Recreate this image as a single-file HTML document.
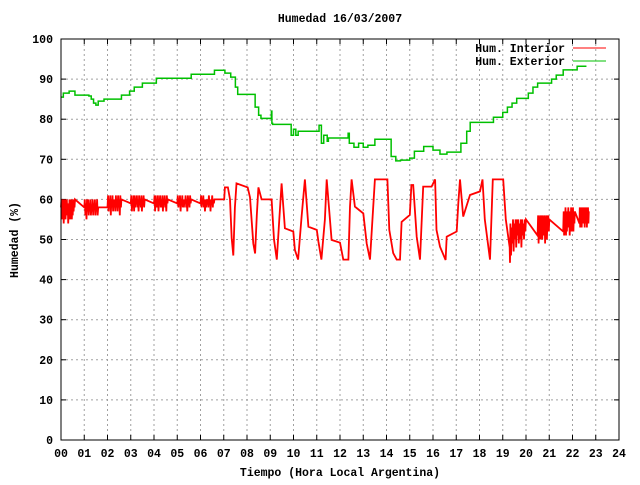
<!DOCTYPE html>
<html><head><meta charset="utf-8"><style>
body{margin:0;background:#fff}
svg text{font-family:"Liberation Mono",monospace;font-size:11.5px;font-weight:bold;fill:#000}
</style></head><body>
<svg id="chart" width="640" height="480" xmlns="http://www.w3.org/2000/svg">
<rect width="640" height="480" fill="#fff"/>
<g id="grid"></g>
<g id="axes"></g>
<g id="series"></g>
<rect x="61" y="39" width="558" height="401" fill="none" stroke="#000" stroke-width="1"/>
<text x="340" y="22" text-anchor="middle">Humedad 16/03/2007</text>
<text x="340" y="476" text-anchor="middle">Tiempo (Hora Local Argentina)</text>
<text x="18" y="240" text-anchor="middle" transform="rotate(-90 18 240)">Humedad (%)</text>
<g>
<text x="565" y="52" text-anchor="end">Hum. Interior</text>
<line x1="573" y1="48" x2="606" y2="48" stroke="#f00" stroke-width="1"/>
<text x="565" y="65" text-anchor="end">Hum. Exterior</text>
<line x1="573" y1="61" x2="606" y2="61" stroke="#00c000" stroke-width="1"/>
</g>
</svg>
<script>
const xTicks=["00","01","02","03","04","05","06","07","08","09","10","11","12","13","14","15","16","17","18","19","20","21","22","23","24"];
const yTicks=[0,10,20,30,40,50,60,70,80,90,100];
const extHours=[0,0.1,0.35,0.6,1.2,1.3,1.4,1.5,1.6,1.85,2.6,2.95,3.15,3.5,4.1,5.6,6.6,7.05,7.3,7.5,7.6,8.25,8.35,8.5,8.6,9.05,9.07,9.1,9.8,9.9,10.0,10.1,10.2,10.3,11.0,11.1,11.2,11.3,11.45,11.5,12.3,12.35,12.4,12.6,12.8,13.0,13.2,13.5,14.0,14.2,14.4,14.6,15.0,15.2,15.6,16.0,16.3,16.6,17.0,17.2,17.45,17.6,18.5,18.6,19.0,19.2,19.4,19.6,20.1,20.3,20.5,21.1,21.3,21.6,22.2,22.6];
const extVals=[85.5,86.5,87,86,85.8,85,84,83.5,84.5,85,86,87,88,89,90.2,91.2,92.2,91.5,90.5,88,86.2,86.2,83,81,80.2,82,79,78.7,78.7,76,77.5,76,77,77,77,78.5,74,76,74.5,75.3,75.3,76.5,74,73,74,73,73.5,75,75,70.7,69.6,69.8,70.3,72,73.2,72.3,71.3,71.8,71.8,74,77,79.2,79.2,80.5,81.7,83,84,85.2,86.5,88,89,90,91,92.3,93.2,93.2];
const intHours=[7.0,7.02,7.05,7.18,7.27,7.34,7.41,7.48,7.55,8.03,8.13,8.27,8.35,8.42,8.49,8.63,9.06,9.16,9.28,9.39,9.49,9.63,9.99,10.06,10.2,10.35,10.49,10.64,11.0,11.07,11.2,11.35,11.43,11.64,12.0,12.14,12.36,12.43,12.5,12.64,13.0,13.15,13.29,13.5,14.04,14.12,14.29,14.44,14.58,14.65,15.0,15.07,15.15,15.3,15.44,15.58,15.94,16.09,16.15,16.3,16.54,16.59,17.02,17.09,17.16,17.3,17.59,18.02,18.13,18.23,18.45,18.57,19.02,19.13,19.31,19.45];
const intVals=[60,60,63,63,60,50.3,46,58,64,63,60.5,49,46.5,56,63,60,60,50,45,55,64,52.8,52,47.4,45,55.7,65,53.2,52.4,49.5,45,55,65,49.9,49.2,45,45,58.2,65,58.2,56.5,49,45,65,65,52.4,46.6,45,45,54.4,56.1,63.6,63.6,50.7,45,63.2,63.2,65,52.4,48.2,44.9,50.7,52,59,65,55.7,61.1,62,65,55,45,65,65,55,44.2,53.2];
const noiseStart=[0.0,1.0,2.0,3.0,4.0,5.0,6.0,19.3,20.5,21.6,22.3];
const noiseEnd=[0.6,1.6,2.6,3.6,4.6,5.6,6.6,20.0,21.0,22.1,22.7];
const noiseVals=[
[58,60,55,59,57,60,54,59,56,60,55,58,57,60,56,59,54,58,56,60,55,59,57,60,55,58,56,60,57,59,58,60],
[58,60,56,59,55,60,57,60,56,59,57,60,56,58,57,60,56,59,58,60,56,59,57,60,56,58],
[58,61,57,60,58,61,56,60,58,61,57,60,58,60,57,61,58,60,57,61,58,60,56,61,58,60],
[59,61,57,60,58,61,57,61,58,60,59,61,58,60,57,61,59,60,58,61,57,60,59,61,58,60],
[59,61,57,61,58,60,58,61,57,60,59,61,58,60,58,61,57,60,59,61,58,60,57,61,59,60],
[59,61,58,60,59,61,57,60,59,61,58,60,58,60,59,61,58,60,57,61,59,60,58,61,59,60],
[59,61,58,60,59,61,58,60,57,60,58,60,59,60,58,61,59,60,57,60,59,61,58,60,59,60],
[48,54,46,53,49,55,47,54,50,55,48,55,51,55,49,54,50,55,48,55,51,54,50,55,52,55],
[51,56,49,55,52,56,50,55,51,56,50,56,53,55,51,56,49,55,52,56,50,55,53,56,52,55],
[52,57,51,56,53,58,51,57,52,56,54,58,53,57,51,57,53,58,52,56,54,58,52,57,54,57],
[54,58,53,57,55,58,53,58,54,57,55,58,54,57,53,58,55,57,54,58,53,57,55,58,54,57]];
const NS="http://www.w3.org/2000/svg";
const X0=61,X1=619,Y0=440,Y1=39;
const xs=h=>X0+(X1-X0)*h/24, ys=v=>Y0-(Y0-Y1)*v/100;
function mk(tag,attrs,parent){const e=document.createElementNS(NS,tag);for(const k in attrs)e.setAttribute(k,attrs[k]);parent.appendChild(e);return e;}
const grid=document.getElementById('grid'),axes=document.getElementById('axes'),series=document.getElementById('series');
xTicks.forEach((t,i)=>{const x=xs(i);
 if(i>0&&i<24){const g=mk('line',{x1:x,y1:Y1,x2:x,y2:Y0,stroke:'#a0a0a0','stroke-dasharray':'2,3'},grid);}
 const tk=mk('line',{x1:x,y1:Y0,x2:x,y2:Y0-5,stroke:'#000'},axes);
 const tk2=mk('line',{x1:x,y1:Y1,x2:x,y2:Y1+5,stroke:'#000'},axes);
 const tx=mk('text',{x:x,y:457,'text-anchor':'middle'},axes);tx.textContent=t;});
yTicks.forEach(v=>{const y=ys(v);
 if(v>0&&v<100){const g=mk('line',{x1:X0,y1:y,x2:X1,y2:y,stroke:'#a0a0a0','stroke-dasharray':'2,3'},grid);}
 const tk=mk('line',{x1:X0,y1:y,x2:X0+5,y2:y,stroke:'#000'},axes);
 const tk2=mk('line',{x1:X1,y1:y,x2:X1-5,y2:y,stroke:'#000'},axes);
 const tx=mk('text',{x:53,y:y+4,'text-anchor':'end'},axes);tx.textContent=v;});
let d='';extHours.forEach((h,i)=>{const x=xs(h),y=ys(extVals[i]);if(i===0)d+='M'+x+' '+y;else d+=' H'+x+' V'+y;});
const ext=mk('path',{d:d,fill:'none',stroke:'#00c000','stroke-width':1.5},series);


const pts=[];
noiseStart.forEach((s,k)=>{const vals=noiseVals[k],e=noiseEnd[k];vals.forEach((v,j)=>pts.push([s+(e-s)*j/(vals.length-1),v]));});
intHours.forEach((h,i)=>pts.push([h,intVals[i]]));
pts.sort((a,b)=>a[0]-b[0]);
let d2='';pts.forEach((p,i)=>{d2+=(i?' L':'M')+xs(p[0]).toFixed(1)+' '+ys(p[1]).toFixed(1);});
const intr=mk('path',{d:d2,fill:'none',stroke:'#f00','stroke-width':1.8},series);


</script>
</body></html>
